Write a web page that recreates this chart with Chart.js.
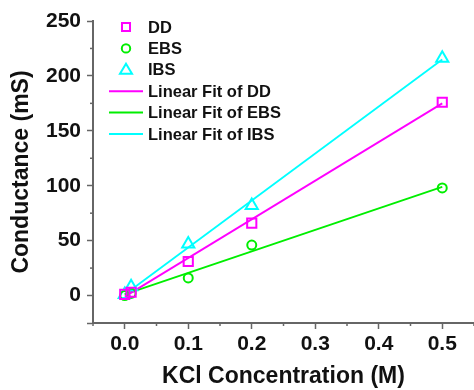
<!DOCTYPE html>
<html>
<head>
<meta charset="utf-8">
<script src="https://cdn.jsdelivr.net/npm/chart.js@4"></script>
<style>
  html, body { margin: 0; padding: 0; background: #fff; }
  #wrap { width: 474px; height: 390px; }
</style>
</head>
<body>
<div id="wrap"><canvas id="myChart"></canvas></div>
<script>
// KCl concentration (M)
const concDD = [0, 0.01, 0.1, 0.2, 0.5];
const concEBS = [0, 0.01, 0.1, 0.2, 0.5];
const concIBS = [0, 0.01, 0.1, 0.2, 0.5];
// conductance (mS)
const valDD = [1, 3, 31, 66, 176];
const valEBS = [0, 2, 16, 46, 98];
const valIBS = [1, 8, 47, 82, 216];
// linear fit end points (x from 0 to 0.5)
const fitX = [0, 0.5];
const fitDD = [-1, 175];
const fitEBS = [1, 99];
const fitIBS = [1, 215];

const magenta = '#ff00ff';
const green = '#00ee00';
const cyan = '#00ffff';
const axisColor = '#666666';
const fontFam = '"Liberation Sans", Arial, sans-serif';

const pts = (xs, ys) => xs.map((x, i) => ({x: x, y: ys[i]}));

// draws short minor ticks and the legend
const extras = {
    id: 'extras',
    afterDraw(chart) {
        const c = chart.ctx;
        const xs = chart.scales.x, ys = chart.scales.y;
        c.save();
        c.strokeStyle = axisColor;
        c.lineWidth = 1.5;
        xs.ticks.forEach(t => {
            if (Math.round(t.value * 100) % 10 === 0) return;
            const px = xs.getPixelForValue(t.value);
            c.beginPath(); c.moveTo(px, xs.top); c.lineTo(px, xs.top + 3); c.stroke();
        });
        ys.ticks.forEach(t => {
            if (t.value % 50 === 0 || t.value === ys.min) return;
            const py = ys.getPixelForValue(t.value);
            c.beginPath(); c.moveTo(ys.right, py); c.lineTo(ys.right - 3, py); c.stroke();
        });

        // legend
        const left = chart.chartArea.left;
        const top = chart.chartArea.top;
        let y = top + 6;
        const rowH = 21.4;
        c.font = 'bold 16.5px ' + fontFam;
        c.textBaseline = 'middle';
        chart.data.datasets.forEach(ds => {
            const mx = left + 33;
            c.strokeStyle = ds.borderColor;
            c.lineWidth = 2;
            c.beginPath();
            if (ds.showLine) {
                c.moveTo(left + 16, y); c.lineTo(left + 50, y);
            } else if (ds.pointStyle === 'rect') {
                c.rect(mx - 4, y - 4, 8, 8);
            } else if (ds.pointStyle === 'circle') {
                c.arc(mx, y, 4.2, 0, Math.PI * 2);
            } else {
                c.moveTo(mx, y - 6); c.lineTo(mx + 6, y + 4); c.lineTo(mx - 6, y + 4); c.closePath();
            }
            c.stroke();
            c.fillStyle = '#111';
            c.fillText(ds.label, left + 55, y + 1);
            y += rowH;
        });
        c.restore();
    }
};

const scatterSet = (label, data, color, style, r) => ({
    label: label,
    data: data,
    showLine: false,
    borderColor: color,
    backgroundColor: 'rgba(0,0,0,0)',
    pointStyle: style,
    pointRadius: r,
    pointBorderWidth: 2,
    order: 0
});
const fitSet = (label, data, color) => ({
    label: label,
    data: data,
    showLine: true,
    borderColor: color,
    borderWidth: 1.8,
    pointRadius: 0,
    fill: false,
    order: 1
});

const ctx = document.getElementById('myChart').getContext('2d');
const myChart = new Chart(ctx, {
    type: 'scatter',
    data: {
        datasets: [
            scatterSet('DD', pts(concDD, valDD), magenta, 'rect', 6.5),
            scatterSet('EBS', pts(concEBS, valEBS), green, 'circle', 4.5),
            scatterSet('IBS', pts(concIBS, valIBS), cyan, 'triangle', 7),
            fitSet('Linear Fit of DD', pts(fitX, fitDD), magenta),
            fitSet('Linear Fit of EBS', pts(fitX, fitEBS), green),
            fitSet('Linear Fit of IBS', pts(fitX, fitIBS), cyan)
        ]
    },
    options: {
        responsive: true,
        maintainAspectRatio: false,
        animation: false,
        layout: { autoPadding: false, padding: { top: 21, right: 0, left: 0, bottom: 0 } },
        plugins: { legend: { display: false }, tooltip: { enabled: false } },
        scales: {
            x: {
                type: 'linear',
                min: -0.05,
                max: 0.55,
                border: { color: axisColor, width: 2 },
                grid: {
                    drawOnChartArea: false,
                    tickLength: 6,
                    tickWidth: 1.5,
                    tickColor: c => (Math.round(c.tick.value * 100) % 10 === 0 ? axisColor : 'rgba(0,0,0,0)')
                },
                ticks: {
                    stepSize: 0.05,
                    autoSkip: false,
                    maxRotation: 0,
                    padding: 3,
                    color: '#111',
                    font: { family: fontFam, size: 21, weight: 'bold' },
                    callback: v => {
                        const k = Math.round(v * 100);
                        return (k % 10 === 0 && k >= 0 && k <= 50) ? (k / 100).toFixed(1) : '';
                    }
                },
                title: {
                    display: true,
                    text: 'KCl Concentration (M)',
                    color: '#111',
                    font: { family: fontFam, size: 23, weight: 'bold' },
                    padding: { top: 4, bottom: 0 }
                },
                afterFit: s => { s.height = 67; s.paddingLeft = 0; s.paddingRight = 0; }
            },
            y: {
                min: -25,
                max: 250,
                border: { color: axisColor, width: 2 },
                grid: {
                    drawOnChartArea: false,
                    tickLength: 6,
                    tickWidth: 1.5,
                    tickColor: c => (c.tick.value % 50 === 0 || c.tick.value === -25 ? axisColor : 'rgba(0,0,0,0)')
                },
                ticks: {
                    stepSize: 25,
                    autoSkip: false,
                    padding: 6,
                    color: '#111',
                    font: { family: fontFam, size: 21, weight: 'bold' },
                    callback: v => (v % 50 === 0 ? String(v) : '')
                },
                title: {
                    display: true,
                    text: 'Conductance (mS)',
                    color: '#111',
                    font: { family: fontFam, size: 23, weight: 'bold' },
                    padding: { top: 8, bottom: 4 }
                },
                afterFit: s => { s.width = 93; }
            }
        }
    },
    plugins: [extras]
});
</script>
</body>
</html>
